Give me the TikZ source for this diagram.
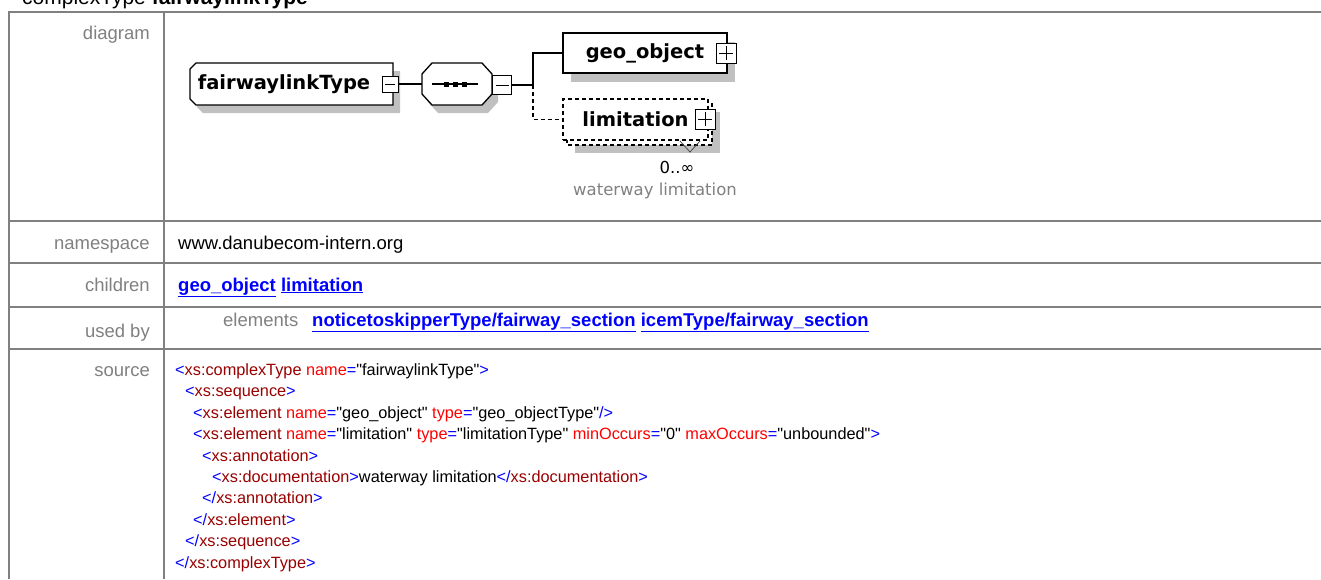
\documentclass[tikz,border=0pt]{standalone}
\usepackage{fontspec}
\setmainfont{Liberation Sans}
\newfontfamily\diafont{DejaVu Sans}
\usetikzlibrary{shadows}

\definecolor{rulegray}{HTML}{808080}
\definecolor{labelgray}{HTML}{808080}
\definecolor{linkblue}{HTML}{0000FF}
\definecolor{tagmaroon}{HTML}{990000}
\definecolor{attrred}{HTML}{FF0000}
\definecolor{shadowgray}{HTML}{C0C0C0}

\newcommand{\tagp}[1]{\textcolor{linkblue}{#1}}
\newcommand{\tagn}[1]{\textcolor{tagmaroon}{#1}}
\newcommand{\attn}[1]{\textcolor{attrred}{#1}}
\newcommand{\qv}[1]{\textquotedbl#1\textquotedbl}
\newcommand{\xlink}[1]{\textcolor{linkblue}{\bfseries\underline{#1}}}

\tikzset{
  tablerule/.style={draw=rulegray, line width=2pt},
  rowlabel/.style={anchor=base east, inner sep=0, text=labelgray, font=\fontsize{18.5}{22}\selectfont},
  rowtext/.style={anchor=base west, inner sep=0, font=\fontsize{18.5}{22}\selectfont},
  srcline/.style={anchor=base west, inner sep=0, font=\fontsize{16.3}{20}\selectfont},
  wire/.style={line width=1.3pt},
  optwire/.style={wire, dash pattern=on 4pt off 3pt},
  elemfont/.style={font=\diafont\bfseries\fontsize{19.5}{22}\selectfont},
  elembox/.style={draw, fill=white, line width=1.3pt, inner sep=0, minimum height=40pt, elemfont},
  togglebox/.style={draw, fill=white, line width=1pt, inner sep=0, minimum size=#1},
  minusbox/.style={togglebox=#1, path picture={
    \draw[line width=1pt] ([xshift=3pt]path picture bounding box.west) -- ([xshift=-3pt]path picture bounding box.east);}},
  plusbox/.style={togglebox=#1, path picture={
    \draw[line width=1pt] ([xshift=3pt]path picture bounding box.west) -- ([xshift=-3pt]path picture bounding box.east);
    \draw[line width=1pt] ([yshift=-3pt]path picture bounding box.north) -- ([yshift=3pt]path picture bounding box.south);}},
  boxshadow/.style={drop shadow={shadow xshift=8pt, shadow yshift=-9pt, opacity=1, fill=shadowgray}}
}

\begin{document}
\begin{tikzpicture}[x=1pt, y=-1pt]
\useasboundingbox (0,0) rectangle (1321,579);

% Table frame
\draw[tablerule] (9,579) -- (9,12) -- (1321,12);
\draw[tablerule] (164,12) -- (164,579);
\foreach \y in {221,263,307,349} {
  \draw[tablerule] (9,\y) -- (1321,\y);
}

% Heading (cut off at the top)
\node[anchor=base west, inner sep=0, font=\fontsize{21}{24}\selectfont] (heading) at (22,4) {complexType \textbf{fairwaylinkType}};

% Row labels
\node[rowlabel] (lbldiag) at (150,39) {diagram};
\node[rowlabel] (lblns) at (150,249) {namespace};
\node[rowlabel] (lblchild) at (150,291) {children};
\node[rowlabel] (lblused) at (150,337) {used by};
\node[rowlabel] (lblsrc) at (150,376) {source};

% Row contents
\node[rowtext] (nsval) at (178,249) {www.danubecom-intern.org};
\node[rowtext] (childval) at (178,291) {\xlink{geo\_object} \xlink{limitation}};
\node[rowtext, text=labelgray] (usedkind) at (223,326) {elements};
\node[rowtext] (usedval) at (312,326) {\xlink{noticetoskipperType/fairway\_section} \xlink{icemType/fairway\_section}};

% Diagram: fairwaylinkType
\fill[shadowgray, shift={(7,8)}] (196,63) -- (393,63) -- (393,105) -- (196,105) -- (190,99) -- (190,69) -- cycle;
\draw[wire, fill=white] (196,63) -- (393,63) -- (393,105) -- (196,105) -- (190,99) -- (190,69) -- cycle;
\node[inner sep=0, elemfont] (ctype) at (284,84) {fairwaylinkType};
\node[minusbox=16pt] (ctmin) at (390,84) {};

% Diagram: sequence
\fill[shadowgray, shift={(6,8)}] (432,63) -- (482,63) -- (492,74) -- (492,94) -- (482,105) -- (432,105) -- (422,94) -- (422,74) -- cycle;
\draw[wire, fill=white] (432,63) -- (482,63) -- (492,74) -- (492,94) -- (482,105) -- (432,105) -- (422,94) -- (422,74) -- cycle;
\node[minimum width=70pt, minimum height=42pt, inner sep=0] (seq) at (457,84) {};
\draw[wire] (432,84) -- (478,84);
\foreach \x in {446,455,464} {
  \fill (\x-2.5,81.5) rectangle (\x+2.5,86.5);
}
\node[minusbox=19pt] (seqmin) at (502,85) {};

% Diagram: children
\node[elembox, boxshadow, minimum width=164pt] (geo) at (645,53) {geo\_object\hspace{10pt}};
\node[plusbox=20pt] (geoplus) at (726,53) {};

\fill[shadowgray] (575,112) rectangle (720,153);
\draw[optwire, fill=white] (567,104) rectangle (712,145);
\node[elembox, minimum width=145pt, minimum height=41pt, dash pattern=on 4pt off 3pt] (lim) at (635.5,119.5) {limitation\hspace{9pt}};
\node[plusbox=20pt] (limplus) at (705,119) {};
\draw[line width=0.8pt, black!70] (680,141) -- (690,152) -- (700,141);
\node[inner sep=0, font=\diafont\fontsize{16.5}{18}\selectfont] (limocc) at (677,167) {0..∞};
\node[inner sep=0, text=labelgray, font=\diafont\fontsize{16.5}{18}\selectfont] (limdoc) at (655,191) {waterway limitation};

% Connectors
\coordinate (fork) at (533,85);
\draw[wire] (ctmin.east) -- (seq.west);
\draw[wire] (seqmin.east) -- (fork);
\draw[wire] (fork) |- (geo.west);
\draw[optwire] (fork) |- (lim.west);

% Source listing
\node[srcline] (src1) at (175,375.5) {\tagp{<}\tagn{xs:complexType} \attn{name}\tagp{=}\qv{fairwaylinkType}\tagp{>}};
\node[srcline] (src2) at (185,396.9) {\tagp{<}\tagn{xs:sequence}\tagp{>}};
\node[srcline] (src3) at (193,418.3) {\tagp{<}\tagn{xs:element} \attn{name}\tagp{=}\qv{geo\_object} \attn{type}\tagp{=}\qv{geo\_objectType}\tagp{/>}};
\node[srcline] (src4) at (193,439.7) {\tagp{<}\tagn{xs:element} \attn{name}\tagp{=}\qv{limitation} \attn{type}\tagp{=}\qv{limitationType} \attn{minOccurs}\tagp{=}\qv{0} \attn{maxOccurs}\tagp{=}\qv{unbounded}\tagp{>}};
\node[srcline] (src5) at (202,461.1) {\tagp{<}\tagn{xs:annotation}\tagp{>}};
\node[srcline] (src6) at (212,482.5) {\tagp{<}\tagn{xs:documentation}\tagp{>}waterway limitation\tagp{</}\tagn{xs:documentation}\tagp{>}};
\node[srcline] (src7) at (202,503.9) {\tagp{</}\tagn{xs:annotation}\tagp{>}};
\node[srcline] (src8) at (193,525.3) {\tagp{</}\tagn{xs:element}\tagp{>}};
\node[srcline] (src9) at (185,546.7) {\tagp{</}\tagn{xs:sequence}\tagp{>}};
\node[srcline] (src10) at (175,568.1) {\tagp{</}\tagn{xs:complexType}\tagp{>}};

\end{tikzpicture}
\end{document}
